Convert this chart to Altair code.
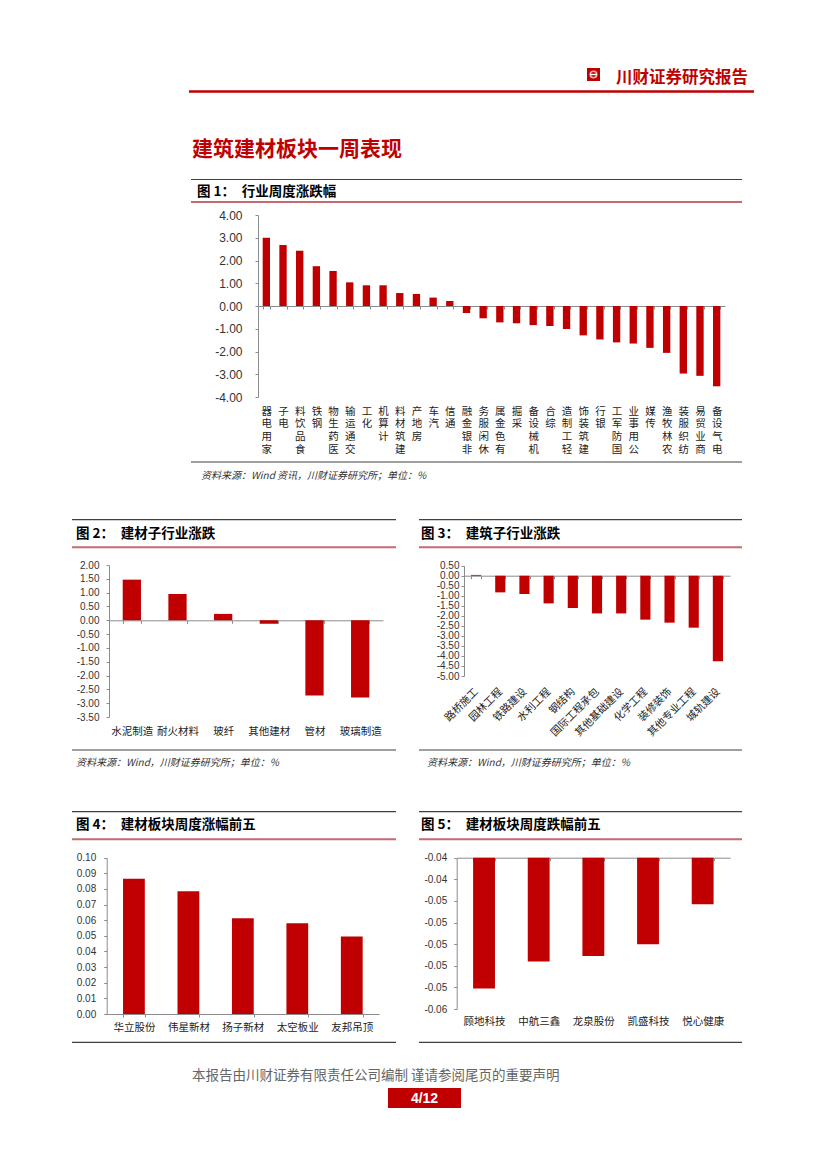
import altair as alt
import pandas as pd

RED = "#C00000"
PINK = "#C46A70"
DARK = "#404040"
AXIS = "#8C8C8C"
CJK = "Noto Sans CJK SC"
NUM = "Liberation Sans"

# ---------------- data ----------------
ind1 = ["家用电器", "电子", "食品饮料", "钢铁", "医药生物", "交通运输", "化工", "计算机",
        "建筑材料", "房地产", "汽车", "通信", "非银金融", "休闲服务", "有色金属", "采掘",
        "机械设备", "综合", "轻工制造", "建筑装饰", "银行", "国防军工", "公用事业", "传媒",
        "农林牧渔", "纺织服装", "商业贸易", "电气设备"]
val1 = [3.00, 2.68, 2.43, 1.75, 1.54, 1.04, 0.91, 0.91, 0.57, 0.53, 0.37, 0.22, -0.31,
        -0.54, -0.72, -0.76, -0.84, -0.88, -1.01, -1.29, -1.47, -1.60, -1.65, -1.84,
        -2.06, -2.97, -3.07, -3.53]
ticks1 = [4.0, 3.0, 2.0, 1.0, 0.0, -1.0, -2.0, -3.0, -4.0]

cat2 = ["水泥制造", "耐火材料", "玻纤", "其他建材", "管材", "玻璃制造"]
val2 = [1.47, 0.95, 0.23, -0.13, -2.72, -2.79]
ticks2 = [2.0, 1.5, 1.0, 0.5, 0.0, -0.5, -1.0, -1.5, -2.0, -2.5, -3.0, -3.5]

cat3 = ["路桥施工", "园林工程", "铁路建设", "水利工程", "钢结构", "国际工程承包",
        "其他基础建设", "化学工程", "装修装饰", "其他专业工程", "城轨建设"]
val3 = [0.04, -0.83, -0.91, -1.38, -1.61, -1.88, -1.88, -2.19, -2.34, -2.59, -4.27]
ticks3 = [0.5, 0.0, -0.5, -1.0, -1.5, -2.0, -2.5, -3.0, -3.5, -4.0, -4.5, -5.0]

cat4 = ["华立股份", "伟星新材", "扬子新材", "太空板业", "友邦吊顶"]
val4 = [0.0866, 0.0785, 0.0613, 0.0581, 0.0496]
ticks4 = [0.0, 0.01, 0.02, 0.03, 0.04, 0.05, 0.06, 0.07, 0.08, 0.09, 0.10]

cat5 = ["顾地科技", "中航三鑫", "龙泉股份", "凯盛科技", "悦心健康"]
val5 = [-0.0541, -0.0516, -0.0511, -0.0500, -0.0463]
ticks5 = [-0.042, -0.044, -0.046, -0.048, -0.050, -0.052, -0.054, -0.056]

W, H = 800, 1120
MINUS_FIX = "replace(datum.label, '\u2212', '-')"


def bars(cats, vals, ticks, xr, yr, axis_x, zero_y, label_pad, xlab_kw,
         ylab_size=10, ylab_pad=7, pad_inner=0.6, base=None):
    df = pd.DataFrame({"cat": cats, "val": vals})
    x = alt.X(
        "cat:N", sort=cats, title=None,
        scale=alt.Scale(range=xr, paddingInner=pad_inner, paddingOuter=pad_inner / 2),
        axis=alt.Axis(orient="bottom", offset=zero_y - H, tickBand="extent", tickSize=3,
                      tickColor=AXIS, domainColor=AXIS, labelPadding=label_pad,
                      labelFont=CJK, labelFontSize=10.5, labelColor="#222",
                      labelOverlap=False, labelBound=False, labelFlush=False,
                      grid=False, **xlab_kw))
    y = alt.Y(
        "val:Q", title=None,
        scale=alt.Scale(domain=[min(ticks), max(ticks)], range=yr, nice=False, zero=False),
        axis=alt.Axis(orient="left", offset=-axis_x, values=ticks, format=".2f",
                      labelExpr=MINUS_FIX, tickSize=3, tickColor=AXIS, domainColor=AXIS,
                      labelFont=NUM, labelFontSize=ylab_size, labelColor="#333",
                      labelPadding=ylab_pad, labelOverlap=False, labelBound=False,
                      labelFlush=False, grid=False))
    enc = dict(x=x, y=y)
    if base is not None:
        enc["y2"] = alt.datum(base)
    return alt.Chart(df).mark_bar(color=RED).encode(**enc)


flat = dict(labelAngle=0, labelAlign="center", labelBaseline="top")

fig1 = bars(ind1, val1, ticks1, [246, 713], [389, 207], 246, 298, 97,
            dict(labelAngle=0, labelAlign="center", labelBaseline="top",
                 labelExpr="reverse(split(datum.label, ''))", labelLineHeight=12.8),
            ylab_size=12, ylab_pad=13, pad_inner=0.56)
fig2 = bars(cat2, val2, ticks2, [97, 371], [709, 557], 97, 612.3, 103, flat,
            ylab_pad=7, pad_inner=0.6)
fig3 = bars(cat3, val3, ticks3, [452, 718], [668, 557.7], 452, 567.7, 111,
            dict(labelAngle=315, labelAlign="right", labelBaseline="middle"),
            ylab_pad=2, pad_inner=0.58)
fig4 = bars(cat4, val4, ticks4, [94.7, 367], [1006, 849.7], 94.7, 1006, 5.5, flat,
            ylab_pad=8, pad_inner=0.6)
fig5 = bars(cat5, val5, ticks5, [444.7, 718], [1001, 849.7], 444.7, 849.7, 156, flat,
            ylab_pad=7, pad_inner=0.6, base=-0.042)

# ---------------- page decoration ----------------
dummy = pd.DataFrame({"d": [0]})


def hline(x1, x2, y, color, w):
    return alt.Chart(dummy).mark_rule(color=color, strokeWidth=w).encode(
        x=alt.value(x1), x2=alt.value(x2), y=alt.value(y))


def txt(s, x, y, size, color="#000", weight="normal", style="normal",
        align="left", font=CJK):
    return alt.Chart(dummy).mark_text(
        text=s, fontSize=size, color=color, fontWeight=weight, fontStyle=style,
        align=align, baseline="middle", font=font).encode(x=alt.value(x), y=alt.value(y))


def box(x1, x2, y1, y2, color):
    return alt.Chart(dummy).mark_rect(color=color).encode(
        x=alt.value(x1), x2=alt.value(x2), y=alt.value(y1), y2=alt.value(y2))


GAP = "\u3000"
deco = [
    # header
    box(575, 588, 60, 73, RED),
    alt.Chart(dummy).mark_point(shape="circle", filled=False, color="white",
                                strokeWidth=1.6, size=42).encode(
        x=alt.value(581.5), y=alt.value(66.5)),
    hline(578, 585, 66.5, "white", 1.4),
    txt("川财证券研究报告", 604, 70, 16.5, color=RED, weight="bold"),
    hline(177, 742, 83.5, RED, 2.5),
    txt("建筑建材板块一周表现", 180, 142, 21, color=RED, weight="bold"),
    # figure 1 frame
    hline(179, 730, 171.5, DARK, 1.2),
    txt("图 1：" + GAP + "行业周度涨跌幅", 185, 184, 13.5, weight="bold"),
    hline(179, 730, 194, PINK, 2),
    hline(179, 730, 454, DARK, 1.2),
    txt("资料来源：Wind 资讯，川财证券研究所；单位：%", 189, 468, 10,
        color="#333", style="italic"),
    # figure 2 frame
    hline(60, 384, 511.7, DARK, 1.2),
    txt("图 2：" + GAP + "建材子行业涨跌", 64, 526, 13.5, weight="bold"),
    hline(60, 384, 539.3, PINK, 2),
    hline(60, 384, 742, DARK, 1.2),
    txt("资料来源：Wind，川财证券研究所；单位：%", 64, 755, 10, color="#333",
        style="italic"),
    # figure 3 frame
    hline(407, 730, 511.7, DARK, 1.2),
    txt("图 3：" + GAP + "建筑子行业涨跌", 409, 526, 13.5, weight="bold"),
    hline(407, 730, 539.3, PINK, 2),
    hline(407, 730, 742, DARK, 1.2),
    txt("资料来源：Wind，川财证券研究所；单位：%", 415, 755, 10, color="#333",
        style="italic"),
    # figure 4 frame
    hline(60, 384, 803.7, DARK, 1.2),
    txt("图 4：" + GAP + "建材板块周度涨幅前五", 64, 817, 13.5, weight="bold"),
    hline(60, 384, 831.3, PINK, 2),
    hline(60, 384, 1034.3, DARK, 1.2),
    # figure 5 frame
    hline(407, 730, 803.7, DARK, 1.2),
    txt("图 5：" + GAP + "建材板块周度跌幅前五", 409, 817, 13.5, weight="bold"),
    hline(407, 730, 831.3, PINK, 2),
    hline(407, 730, 1034.3, DARK, 1.2),
    # footer
    txt("本报告由川财证券有限责任公司编制  谨请参阅尾页的重要声明", 180, 1068, 13.5,
        color="#666"),
    box(376, 449, 1080, 1100, RED),
    txt("4/12", 412.5, 1090.5, 14, color="white", weight="bold", align="center", font=NUM),
]

chart = (
    alt.layer(*deco, fig1, fig2, fig3, fig4, fig5)
    .resolve_scale(x="independent", y="independent")
    .resolve_axis(x="independent", y="independent")
    .properties(width=W, height=H, padding=0)
    .configure_view(strokeWidth=0)
)

chart.save("out.html", embed_options={"renderer": "svg", "actions": False})
